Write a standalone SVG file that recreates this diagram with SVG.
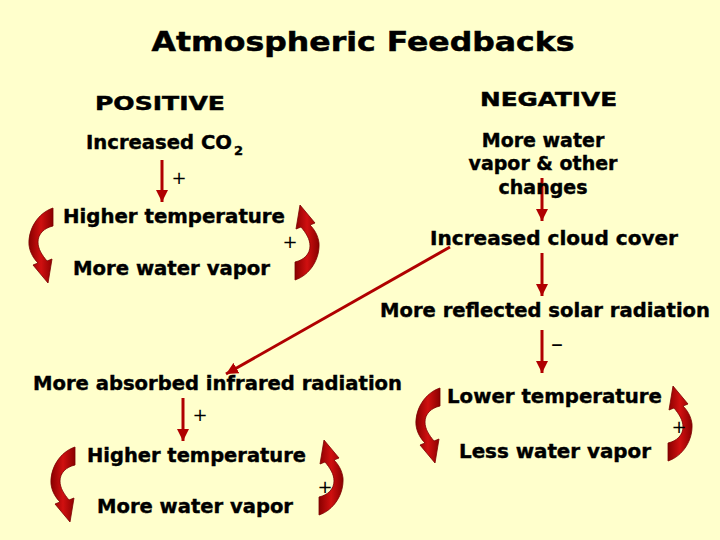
<svg xmlns="http://www.w3.org/2000/svg" width="720" height="540" viewBox="0 0 720 540">
<style>
.t{font-family:"DejaVu Sans",Verdana,sans-serif;font-weight:bold;fill:#000;stroke:#000;stroke-width:0.4;font-size:19px}
.h{font-family:"DejaVu Sans",Verdana,sans-serif;font-weight:bold;fill:#000;stroke:#000;stroke-width:0.5}
.p{font-family:"DejaVu Sans",sans-serif;font-weight:normal;fill:#000;font-size:18px}
.c{stroke:#B00000;stroke-width:3;fill:none}
.lp{fill:url(#rg);stroke:#7A0000;stroke-width:0.8}
</style>
<defs>
<marker id="ah" markerUnits="userSpaceOnUse" markerWidth="12" markerHeight="12" refX="10" refY="5" orient="auto" viewBox="0 0 10 10">
<path d="M0,0 L10,5 L0,10 Z" fill="#B00000"/>
</marker>
<linearGradient id="rg" x1="0" y1="0" x2="1" y2="0">
<stop offset="0" stop-color="#8A0000"/>
<stop offset="0.5" stop-color="#D01010"/>
<stop offset="1" stop-color="#8A0000"/>
</linearGradient>
<path id="loop" d="M25,1 C10,6 0,22 1,38 C2,46 6,52 10,56 L5,58 L20,76 L24,52 L19,54 C14,48 10,42 10,35 C10,27 16,21 25,19 Z"/>
</defs>
<rect width="720" height="540" fill="#FFFFCC"/>
<text class="h" x="363" y="51" font-size="27" text-anchor="middle" textLength="423" lengthAdjust="spacingAndGlyphs">Atmospheric Feedbacks</text>
<text class="h" x="95" y="110" font-size="20" textLength="130" lengthAdjust="spacingAndGlyphs">POSITIVE</text>
<text class="h" x="480" y="106" font-size="20" textLength="137" lengthAdjust="spacingAndGlyphs">NEGATIVE</text>

<g id="connectors">
<line class="c" x1="162" y1="160" x2="162" y2="202" marker-end="url(#ah)"/>
<line class="c" x1="542" y1="178" x2="542" y2="221" marker-end="url(#ah)"/>
<line class="c" x1="542" y1="253" x2="542" y2="296" marker-end="url(#ah)"/>
<line class="c" x1="450" y1="247" x2="226" y2="374" marker-end="url(#ah)"/>
<line class="c" x1="542" y1="330" x2="542" y2="373" marker-end="url(#ah)"/>
<line class="c" x1="183" y1="398" x2="183" y2="441" marker-end="url(#ah)"/>
<use href="#loop" class="lp" transform="translate(28,207)"/>
<use href="#loop" class="lp" transform="translate(320,281) rotate(180)"/>
<use href="#loop" class="lp" transform="translate(50,446)"/>
<use href="#loop" class="lp" transform="translate(344,516) rotate(180)"/>
<use href="#loop" class="lp" transform="translate(415,387)"/>
<use href="#loop" class="lp" transform="translate(693,462) rotate(180)"/>
<text class="p" x="179" y="184" text-anchor="middle">+</text>
<text class="p" x="290" y="248" text-anchor="middle">+</text>
<text class="p" x="557" y="352" text-anchor="middle" style="font-size:24px">–</text>
<text class="p" x="200" y="421" text-anchor="middle">+</text>
<text class="p" x="325" y="493" text-anchor="middle">+</text>
<text class="p" x="679" y="433" text-anchor="middle">+</text>
</g>

<g id="co2"><text class="t" x="86" y="149" textLength="146" lengthAdjust="spacingAndGlyphs">Increased CO</text><text class="t" x="234" y="155" style="font-size:13px">2</text></g>
<g id="hightemp1"><text class="t" x="63" y="223" textLength="222" lengthAdjust="spacingAndGlyphs">Higher temperature</text></g>
<g id="vapor1"><text class="t" x="73" y="275" textLength="197" lengthAdjust="spacingAndGlyphs">More water vapor</text></g>
<g id="morewater"><text class="t" text-anchor="middle"><tspan x="543" y="147">More water</tspan><tspan x="543" y="170">vapor &amp; other</tspan><tspan x="543" y="194">changes</tspan></text></g>
<g id="cloud"><text class="t" x="430" y="245" textLength="248" lengthAdjust="spacingAndGlyphs">Increased cloud cover</text></g>
<g id="reflected"><text class="t" x="380" y="317" textLength="330" lengthAdjust="spacingAndGlyphs">More reflected solar radiation</text></g>
<g id="absorbed"><text class="t" x="33" y="390" textLength="369" lengthAdjust="spacingAndGlyphs">More absorbed infrared radiation</text></g>
<g id="hightemp2"><text class="t" x="87" y="462" textLength="219" lengthAdjust="spacingAndGlyphs">Higher temperature</text></g>
<g id="vapor2"><text class="t" x="97" y="513" textLength="196" lengthAdjust="spacingAndGlyphs">More water vapor</text></g>
<g id="lowtemp"><text class="t" x="447" y="403" textLength="215" lengthAdjust="spacingAndGlyphs">Lower temperature</text></g>
<g id="lessvapor"><text class="t" x="459" y="458" textLength="192" lengthAdjust="spacingAndGlyphs">Less water vapor</text></g>
</svg>
